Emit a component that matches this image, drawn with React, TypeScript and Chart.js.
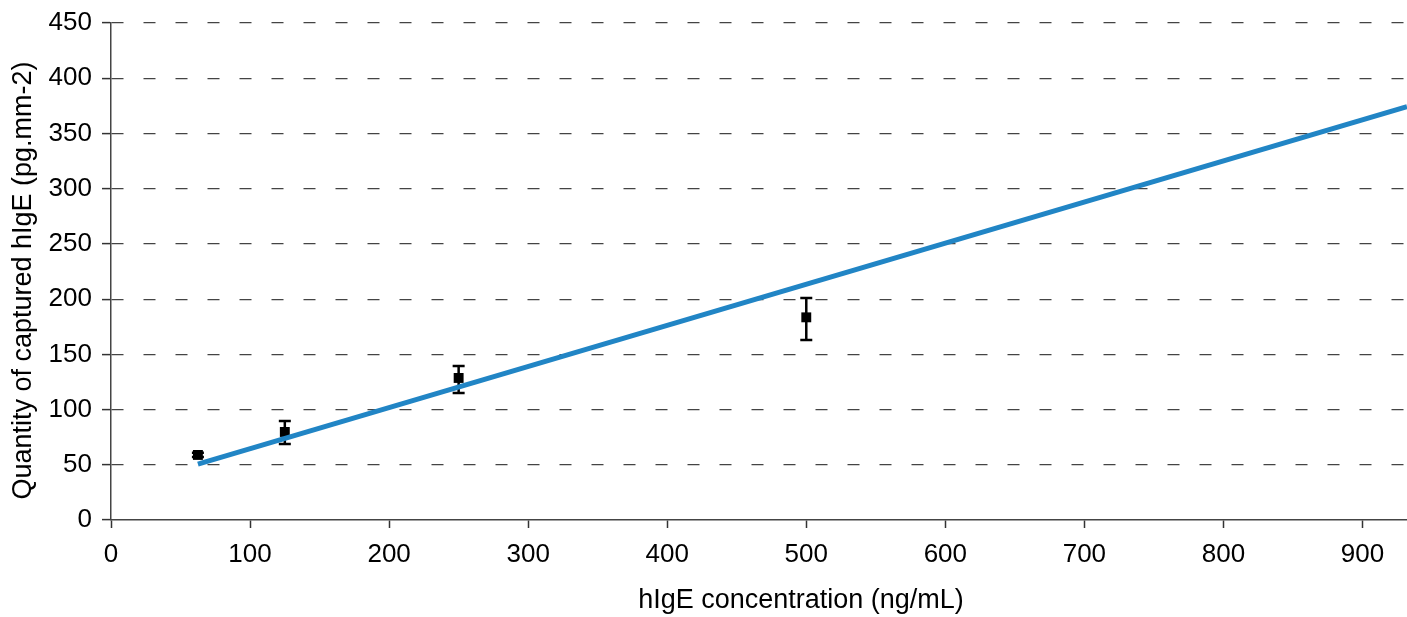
import React, { useEffect, useRef } from "react";
import { Chart, registerables } from "chart.js";

Chart.register(...registerables);

const concentrations = [62.5, 125, 250, 500];
const captured = [58.9, 79.7, 128.6, 183.5];
const errLow = [57, 68.8, 115, 163];
const errHigh = [61, 89.6, 139.4, 201];

const fitX = [62.5, 932];
const fitY = [50.5, 374.2];

const xTitle = "hIgE concentration (ng/mL)";
const yTitle = "Quantity of captured hIgE (pg.mm-2)";

const FONT = '"Liberation Sans", Arial, Helvetica, sans-serif';

const errorBarPlugin = {
  id: "errorBars",
  beforeDatasetsDraw(chart: any) {
    const { ctx, scales } = chart;
    const xs = scales.x;
    const ys = scales.y;
    ctx.save();
    ctx.strokeStyle = "#000";
    ctx.lineWidth = 2.5;
    const cap = 6;
    concentrations.forEach((c, i) => {
      const px = xs.getPixelForValue(c);
      const lo = ys.getPixelForValue(errLow[i]);
      const hi = ys.getPixelForValue(errHigh[i]);
      ctx.beginPath();
      ctx.moveTo(px, lo);
      ctx.lineTo(px, hi);
      ctx.moveTo(px - cap, lo);
      ctx.lineTo(px + cap, lo);
      ctx.moveTo(px - cap, hi);
      ctx.lineTo(px + cap, hi);
      ctx.stroke();
    });
    ctx.restore();
  },
};

const titlePlugin = {
  id: "axisTitles",
  afterDraw(chart: any) {
    const { ctx, chartArea } = chart;
    ctx.save();
    ctx.fillStyle = "#000";
    ctx.font = `27px ${FONT}`;
    ctx.textAlign = "center";
    ctx.textBaseline = "middle";
    ctx.fillText(xTitle, 801, 601);
    ctx.translate(24, (chartArea.top + chartArea.bottom) / 2 + 9);
    ctx.rotate(-Math.PI / 2);
    ctx.fillText(yTitle, 0, 0);
    ctx.restore();
  },
};

export default function App() {
  const ref = useRef<HTMLCanvasElement>(null);

  useEffect(() => {
    if (!ref.current) return;
    const chart = new Chart(ref.current, {
      type: "scatter",
      data: {
        datasets: [
          {
            type: "line",
            label: "fit",
            data: fitX.map((x, i) => ({ x, y: fitY[i] })),
            borderColor: "#2185c5",
            borderWidth: 5,
            pointRadius: 0,
            fill: false,
            tension: 0,
          },
          {
            label: "hIgE",
            data: concentrations.map((x, i) => ({ x, y: captured[i] })),
            pointStyle: "rect",
            pointRadius: 7,
            backgroundColor: "#000",
            borderColor: "#000",
            borderWidth: 0,
          },
        ],
      },
      options: {
        animation: false,
        responsive: true,
        maintainAspectRatio: false,
        layout: { autoPadding: false, padding: { top: 23, right: 0, bottom: 0, left: 0 } },
        plugins: {
          legend: { display: false },
          tooltip: { enabled: false },
        },
        scales: {
          x: {
            type: "linear",
            min: 0,
            max: 932,
            ticks: {
              stepSize: 100,
              includeBounds: false,
              color: "#000",
              font: { family: FONT, size: 26 },
              padding: 11,
              maxRotation: 0,
            },
            grid: {
              drawOnChartArea: false,
              drawTicks: true,
              tickLength: 8,
              tickColor: "#333",
              tickWidth: 1.5,
            },
            border: { color: "#444", width: 1.5 },
            afterFit: (scale: any) => {
              scale.height = 97;
              scale.paddingRight = 0;
              scale.paddingLeft = 0;
            },
          },
          y: {
            type: "linear",
            min: 0,
            max: 450,
            ticks: {
              stepSize: 50,
              color: "#000",
              font: { family: FONT, size: 26 },
              padding: 10,
            },
            grid: {
              color: (c: any) => (c.tick && c.tick.value === 0 ? "rgba(0,0,0,0)" : "#444"),
              lineWidth: 1.2,
              drawTicks: true,
              tickLength: 9,
              tickColor: "#333",
              tickWidth: 1.5,
            },
            border: { color: "#444", width: 1.5, dash: [12, 20] },
            afterFit: (scale: any) => {
              scale.width = 111;
              scale.paddingTop = 0;
              scale.paddingBottom = 0;
            },
          },
        },
      },
      plugins: [errorBarPlugin, titlePlugin],
    } as any);
    return () => chart.destroy();
  }, []);

  return (
    <div style={{ position: "absolute", left: 0, top: 0, width: 1407, height: 617, background: "#fff" }}>
      <canvas ref={ref} />
    </div>
  );
}
